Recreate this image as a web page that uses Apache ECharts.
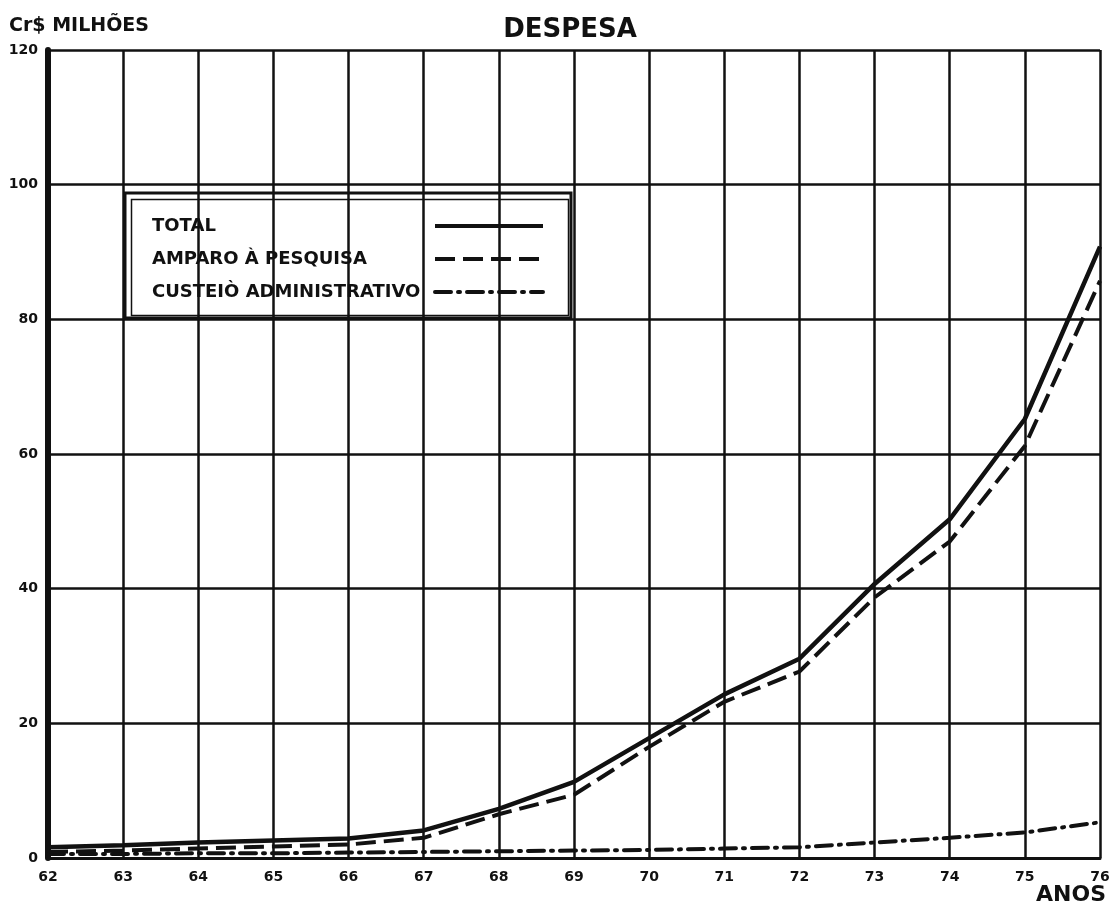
<!DOCTYPE html>
<html>
<head>
<meta charset="utf-8">
<title>Despesa</title>
<script src="https://cdn.jsdelivr.net/npm/echarts@6/dist/echarts.min.js"></script>
<style>
  html, body { margin: 0; padding: 0; background: #fff; }
  #chart { width: 1114px; height: 910px; }
</style>
</head>
<body>
<div id="chart"></div>
<script>
// anos (eixo x) e valores em Cr$ milhões
const years = ['62', '63', '64', '65', '66', '67', '68', '69', '70', '71', '72', '73', '74', '75', '76']
const total = [1.6, 1.9, 2.3, 2.6, 2.9, 4.1, 7.3, 11.3, 17.8, 24.3, 29.6, 40.7, 50.3, 65.2, 90.8]
const amparo = [0.9, 1.1, 1.4, 1.7, 2.0, 3.0, 6.5, 9.4, 16.5, 23.2, 27.7, 38.7, 47.0, 61.2, 85.7]
const custeio = [0.6, 0.6, 0.7, 0.7, 0.8, 0.9, 1.0, 1.1, 1.2, 1.4, 1.6, 2.3, 3.0, 3.8, 5.3]
const yTicks = { min: 0, max: 120, interval: 20 }

const ink = '#111'
const font = 'DejaVu Sans'

const chart = echarts.init(document.getElementById('chart'))

const option = {
  backgroundColor: '#fff',
  animation: false,
  title: {
    text: 'DESPESA',
    left: 565,
    top: 12,
    textAlign: 'center',
    textStyle: { fontFamily: font, fontWeight: 'bold', fontSize: 26, color: ink }
  },
  legend: {
    orient: 'vertical',
    left: 125,
    top: 193,
    align: 'right',
    padding: [24, 26, 17, 27],
    itemGap: 15,
    itemWidth: 108,
    itemHeight: 14,
    borderColor: ink,
    borderWidth: 3,
    itemStyle: { color: 'transparent', borderWidth: 0 },
    lineStyle: { width: 4 },
    formatter: (name) => '{t|' + name + '}',
    textStyle: {
      fontFamily: font, fontWeight: 'bold', fontSize: 18, color: ink,
      rich: { t: { width: 278, align: 'left', fontFamily: font, fontWeight: 'bold', fontSize: 18, color: ink } }
    },
    data: ['TOTAL', 'AMPARO À PESQUISA', 'CUSTEIÒ ADMINISTRATIVO']
  },
  graphic: [
    {
      // filete interno da moldura da legenda
      type: 'rect',
      left: 129,
      top: 197,
      shape: { width: 437, height: 116 },
      style: { fill: 'none', stroke: ink, lineWidth: 1.5 },
      silent: true
    }
  ],
  grid: { left: 48, right: 14, top: 50, bottom: 52, outerBoundsMode: 'none', containLabel: false },
  xAxis: {
    type: 'category',
    data: years,
    boundaryGap: false,
    name: 'ANOS',
    nameLocation: 'end',
    nameGap: 6,
    nameTextStyle: {
      fontFamily: font, fontWeight: 'bold', fontSize: 22, color: ink,
      align: 'right', verticalAlign: 'top', padding: [26, 0, 0, 0]
    },
    axisLine: { lineStyle: { color: ink, width: 3 } },
    axisTick: { show: false },
    axisLabel: { interval: 0, margin: 12, fontFamily: font, fontWeight: 'bold', fontSize: 14, color: ink },
    splitLine: { show: true, lineStyle: { color: ink, width: 2.5 } }
  },
  yAxis: {
    type: 'value',
    min: yTicks.min,
    max: yTicks.max,
    interval: yTicks.interval,
    name: 'Cr$ MILHÕES',
    nameLocation: 'end',
    nameGap: 24,
    nameTextStyle: {
      fontFamily: font, fontWeight: 'bold', fontSize: 19, color: ink,
      align: 'left', verticalAlign: 'middle', padding: [0, 0, 0, -39]
    },
    axisLine: { show: true, lineStyle: { color: ink, width: 6 } },
    axisTick: { show: false },
    axisLabel: { margin: 10, fontFamily: font, fontWeight: 'bold', fontSize: 14, color: ink },
    splitLine: { show: true, lineStyle: { color: ink, width: 2.5 } }
  },
  series: [
    {
      name: 'TOTAL',
      type: 'line',
      symbol: 'none',
      data: total,
      lineStyle: { color: ink, width: 4.5 },
      itemStyle: { color: ink },
      z: 5
    },
    {
      name: 'AMPARO À PESQUISA',
      type: 'line',
      symbol: 'none',
      data: amparo,
      lineStyle: { color: ink, width: 4, type: [20, 8] },
      itemStyle: { color: ink },
      z: 4
    },
    {
      name: 'CUSTEIÒ ADMINISTRATIVO',
      type: 'line',
      symbol: 'none',
      data: custeio,
      lineStyle: { color: ink, width: 4, type: [16, 7, 2, 7], cap: 'round' },
      itemStyle: { color: ink },
      z: 3
    }
  ]
}

chart.setOption(option)
</script>
</body>
</html>
